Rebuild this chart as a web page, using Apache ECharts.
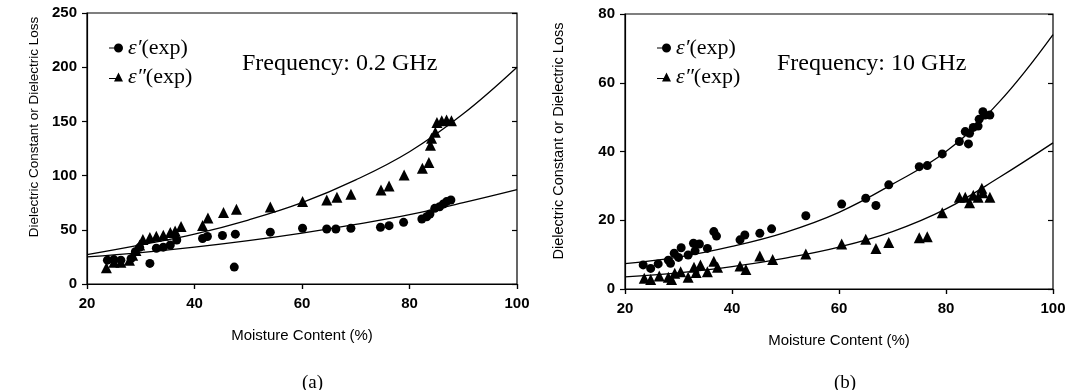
<!DOCTYPE html>
<html>
<head>
<meta charset="utf-8">
<script src="https://cdn.jsdelivr.net/npm/echarts@6/dist/echarts.min.js"></script>
<style>
html,body{margin:0;padding:0;background:#fff;}
#c{width:1075px;height:390px;}
</style>
</head>
<body>
<div id="c"></div>
<script>
// ---------- data ----------
const xTicks = [20, 40, 60, 80, 100];
const fitX = [20, 30, 40, 50, 60, 70, 80, 90, 100];

// (a) 0.2 GHz
const a_ep_x = [23.8, 25.0, 26.3, 28.2, 29.0, 29.8, 31.7, 32.9, 34.2, 35.5, 36.7, 41.5, 42.4, 45.2, 47.4, 47.6, 54.1, 60.1, 64.6, 66.3, 69.1, 74.6, 76.2, 78.9, 82.3, 83.2, 83.8, 84.7, 85.6, 86.3, 86.9, 87.7];
const a_ep_y = [22, 22.5, 22, 23.4, 29.7, 33.8, 19, 33, 34, 36, 40.6, 42, 43.8, 44.7, 15.6, 46, 47.8, 51.4, 50.7, 50.7, 51.4, 52.3, 53.8, 56.9, 60, 62, 64.6, 69.8, 71.3, 73.8, 76, 77.5];
const a_epp_x = [23.6, 25.0, 26.3, 27.9, 28.5, 29.1, 29.8, 30.4, 31.7, 32.9, 34.2, 35.5, 36.4, 37.5, 41.5, 42.5, 45.4, 47.8, 54.1, 60.1, 64.6, 66.5, 69.1, 74.7, 76.2, 79.0, 82.4, 83.6, 83.9, 84.1, 84.8, 85.1, 86.0, 86.9, 87.8];
const a_epp_y = [15, 20, 20, 22, 26.5, 31, 36, 41, 43, 44, 45, 47.5, 49, 53, 54, 61, 66, 69, 71, 76, 77.5, 80, 82.7, 86.7, 90.4, 100.6, 106.7, 112, 128, 134.4, 140, 149, 150.7, 151.3, 150.7];
const a_fit_ep = [25, 29, 34, 40, 47, 55, 64, 75, 87];
const a_fit_epp = [27, 36, 46, 59, 75, 96, 122, 157, 200];
const a_yTicks = [0, 50, 100, 150, 200, 250];

// (b) 10 GHz
const b_ep_x = [23.4, 24.8, 26.2, 28.1, 28.5, 29.2, 30.0, 30.5, 31.8, 32.8, 33.1, 33.9, 35.4, 36.6, 37.1, 41.5, 42.4, 45.2, 47.4, 53.8, 60.5, 65.0, 66.9, 69.3, 75.0, 76.5, 79.3, 82.5, 84.2, 83.6, 84.4, 85.1, 86.0, 86.2, 86.9, 87.3, 88.2];
const b_ep_y = [7, 6, 7.3, 8.4, 7.5, 10.4, 9.2, 12, 9.9, 13.3, 11.1, 13.1, 11.8, 16.7, 15.4, 14.3, 15.7, 16.2, 17.5, 21.3, 24.7, 26.4, 24.3, 30.3, 35.6, 35.9, 39.3, 42.9, 42.2, 45.8, 45.3, 47, 47.4, 49.4, 51.6, 50.6, 50.6];
const b_epp_x = [23.6, 24.8, 26.4, 28.1, 28.7, 29.3, 30.4, 31.8, 32.9, 33.3, 34.1, 35.4, 36.6, 37.3, 41.5, 42.6, 45.2, 47.6, 53.8, 60.5, 65.0, 66.9, 69.3, 75.0, 76.5, 79.3, 82.5, 83.6, 84.4, 85.1, 86.0, 86.7, 86.9, 88.2];
const b_epp_y = [3.1, 2.8, 3.8, 3.4, 2.8, 4.6, 5, 3.4, 6.3, 4.8, 7, 5, 8.1, 6.3, 6.7, 5.7, 9.6, 8.6, 10.2, 13.1, 14.5, 11.8, 13.5, 14.9, 15.2, 22.2, 26.7, 26.7, 25.1, 27.3, 26.7, 29.3, 28, 26.7];
const b_fit_ep = [7.4, 9.3, 12.4, 16.5, 22.3, 30.5, 40, 54.5, 74];
const b_fit_epp = [3.5, 4.7, 6.5, 9, 12.2, 16.7, 23.3, 32.5, 42.5];
const b_yTicks = [0, 20, 40, 60, 80];

const xName = 'Moisture Content (%)';
const yName = 'Dielectric Constant or Dielectric Loss';
const freqA = 'Frequency: 0.2 GHz';
const freqB = 'Frequency: 10 GHz';
const legendText = {ep: '{g|\u03b5\u2032}(exp)', epp: '{g|\u03b5\u2033}(exp)'};

// ---------- helpers ----------
const zip = (xs, ys) => xs.map((x, i) => [x, ys[i]]);
const SANS = 'Liberation Sans, Arial, sans-serif';
const SERIF = 'Liberation Serif, Times New Roman, serif';
const BLACK = '#000';

const circleIcon = 'path://M0,4.4 L9,4.4 L9,5.6 L0,5.6 Z M5,5 A4.5,4.5 0 1 1 14,5 A4.5,4.5 0 1 1 5,5 Z';
const triIcon = 'path://M0,6.4 L9,6.4 L9,7.6 L0,7.6 Z M5,10 L9.5,1 L14,10 Z';

function xAx(gi, inside) {
  return {
    type: 'value', gridIndex: gi, min: xTicks[0], max: xTicks[xTicks.length - 1], interval: 20,
    axisLine: {show: !inside, lineStyle: {color: BLACK, width: 1.2}},
    axisTick: {show: true, inside: inside, length: 5, lineStyle: {color: BLACK, width: 1.2}},
    axisLabel: inside ? {show: false} : {color: BLACK, fontFamily: SANS, fontSize: 15, fontWeight: 'bold', margin: 12},
    splitLine: {show: false},
    name: inside ? '' : xName, nameLocation: 'middle', nameGap: 44,
    nameTextStyle: {color: BLACK, fontFamily: SANS, fontSize: 15}
  };
}
function yAx(gi, ticks, inside) {
  return {
    type: 'value', gridIndex: gi, min: ticks[0], max: ticks[ticks.length - 1], interval: ticks[1] - ticks[0],
    axisLine: {show: !inside, lineStyle: {color: BLACK, width: 1.2}},
    axisTick: {show: true, inside: inside, length: 5, lineStyle: {color: BLACK, width: 1.2}},
    axisLabel: inside ? {show: false} : {color: BLACK, fontFamily: SANS, fontSize: 15, fontWeight: 'bold', margin: 10},
    splitLine: {show: false}
  };
}
function scatter(name, xi, yi, xs, ys, sym, size) {
  return {
    type: 'scatter', name: name, xAxisIndex: xi, yAxisIndex: yi, data: zip(xs, ys),
    symbol: sym, symbolSize: size, itemStyle: {color: BLACK, opacity: 1}, z: 5,
    emphasis: {disabled: true}
  };
}
function fit(name, xi, yi, ys) {
  return {
    type: 'line', name: name, xAxisIndex: xi, yAxisIndex: yi, data: zip(fitX, ys),
    smooth: 0.4, showSymbol: false, lineStyle: {color: BLACK, width: 1.3}, z: 3,
    emphasis: {disabled: true}
  };
}
function legend(left, top) {
  return {
    orient: 'vertical', left: left, top: top, itemWidth: 14, itemHeight: 10, itemGap: 5,
    selectedMode: false,
    data: [{name: 'ep', icon: circleIcon}, {name: 'epp', icon: triIcon}],
    formatter: n => legendText[n],
    textStyle: {color: BLACK, fontFamily: SERIF, fontSize: 22, lineHeight: 24,
      rich: {g: {fontFamily: SERIF, fontSize: 22, fontStyle: 'italic', color: BLACK}}}
  };
}

const chart = echarts.init(document.getElementById('c'), null, {renderer: 'canvas'});
chart.setOption({
  backgroundColor: '#fff',
  animation: false,
  grid: [
    {left: 87, top: 13, width: 430, height: 271, show: true, borderColor: BLACK, borderWidth: 1.2, backgroundColor: 'transparent'},
    {left: 625, top: 14, width: 428, height: 275, show: true, borderColor: BLACK, borderWidth: 1.2, backgroundColor: 'transparent'}
  ],
  xAxis: [xAx(0, false), xAx(1, false), xAx(0, true), xAx(1, true)],
  yAxis: [yAx(0, a_yTicks, false), yAx(1, b_yTicks, false), yAx(0, a_yTicks, true), yAx(1, b_yTicks, true)],
  legend: [legend(104, 31), legend(652, 31)],
  title: [
    {text: freqA, left: 237, top: 47, textStyle: {color: BLACK, fontFamily: SERIF, fontSize: 24, fontWeight: 'normal'}},
    {text: freqB, left: 772, top: 47, textStyle: {color: BLACK, fontFamily: SERIF, fontSize: 24, fontWeight: 'normal'}},
    {text: '(a)', left: 297, top: 369, textStyle: {color: BLACK, fontFamily: SERIF, fontSize: 19, fontWeight: 'normal'}},
    {text: '(b)', left: 829, top: 369, textStyle: {color: BLACK, fontFamily: SERIF, fontSize: 19, fontWeight: 'normal'}}
  ],
  graphic: [
    {type: 'text', x: 34, y: 127, rotation: Math.PI / 2,
      style: {text: yName, font: '13.5px ' + SANS, fill: BLACK, align: 'center', verticalAlign: 'middle'}},
    {type: 'text', x: 559, y: 141, rotation: Math.PI / 2,
      style: {text: yName, font: '14.5px ' + SANS, fill: BLACK, align: 'center', verticalAlign: 'middle'}}
  ],
  series: [
    fit('fitA1', 0, 0, a_fit_ep),
    fit('fitA2', 0, 0, a_fit_epp),
    scatter('ep', 0, 0, a_ep_x, a_ep_y, 'circle', 9),
    scatter('epp', 0, 0, a_epp_x, a_epp_y, 'triangle', 11),
    fit('fitB1', 1, 1, b_fit_ep),
    fit('fitB2', 1, 1, b_fit_epp),
    scatter('ep', 1, 1, b_ep_x, b_ep_y, 'circle', 9),
    scatter('epp', 1, 1, b_epp_x, b_epp_y, 'triangle', 11)
  ]
});
</script>
</body>
</html>
